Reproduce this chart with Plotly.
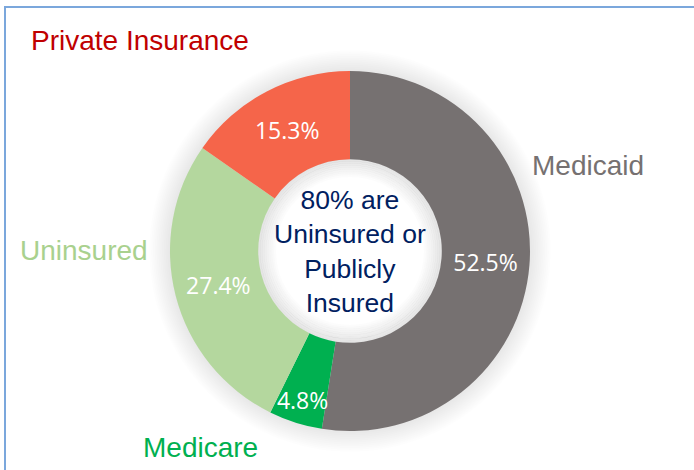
import plotly.graph_objects as go

W, H = 694, 470

labels = ["Medicaid", "Medicare", "Uninsured", "Private Insurance"]
values = [52.5, 4.8, 27.4, 15.3]
colors = ["#767171", "#00B050", "#B4D79E", "#F5654A"]
label_colors = ["#767171", "#00B050", "#A9D18E", "#C00000"]
center_lines = ["80% are", "Uninsured or", "Publicly", "Insured"]

# donut placement in pixels
cx, cy, r = 350, 251, 180
hole = 0.51

# outside label anchor points (pixels from top-left)
label_pos = {
    "Medicaid": (588, 165),
    "Medicare": (200, 447),
    "Uninsured": (84, 250),
    "Private Insurance": (140, 40),
}


def px(x, y):
    return x / W, 1 - y / H


def circle(rr, **kw):
    return dict(
        type="circle", xref="paper", yref="paper",
        x0=(cx - rr) / W, x1=(cx + rr) / W,
        y0=1 - (cy + rr) / H, y1=1 - (cy - rr) / H,
        **kw,
    )


fig = go.Figure()

fig.add_trace(
    go.Pie(
        labels=labels,
        values=values,
        hole=hole,
        sort=False,
        direction="clockwise",
        rotation=0,
        marker=dict(colors=colors, line=dict(width=0)),
        texttemplate="%{value:.1f}%",
        textposition="inside",
        insidetextorientation="horizontal",
        textfont=dict(family="Open Sans", size=23, color="white"),
        showlegend=False,
        hoverinfo="label+value",
        domain=dict(
            x=[(cx - r) / W, (cx + r) / W],
            y=[1 - (cy + r) / H, 1 - (cy - r) / H],
        ),
    )
)

shapes = []
# soft outer shadow
for i in range(12):
    shapes.append(circle(r + 1 + i * 1.8, layer="below",
                         fillcolor="rgba(0,0,0,0.009)", line=dict(width=0)))
# white hole with inner shadow
ri = r * hole
shapes.append(circle(ri, layer="below", fillcolor="white", line=dict(width=0)))
for i in range(9):
    shapes.append(circle(ri - 1 - i * 2, layer="below",
                         line=dict(color="rgba(0,0,0,%.3f)" % (0.1 - i * 0.011), width=2.2)))
# frame (top and left edge visible)
x0, y1 = px(5, 7)
shapes.append(
    dict(
        type="rect", xref="paper", yref="paper", layer="below",
        x0=x0, x1=1.05, y0=-0.05, y1=y1,
        line=dict(color="#7BA7DC", width=2), fillcolor="rgba(0,0,0,0)",
    )
)

annotations = []
for name, col in zip(labels, label_colors):
    x, y = px(*label_pos[name])
    annotations.append(
        dict(
            text=name, x=x, y=y, xref="paper", yref="paper",
            showarrow=False, xanchor="center", yanchor="middle",
            font=dict(family="Liberation Sans", size=28, color=col),
        )
    )

cxp, cyp = px(cx, cy)
annotations.append(
    dict(
        text="<br>".join(center_lines), x=cxp, y=cyp,
        xref="paper", yref="paper", showarrow=False,
        xanchor="center", yanchor="middle",
        font=dict(family="Liberation Sans", size=26.5, color="#002060"),
    )
)

fig.update_layout(
    width=W,
    height=H,
    margin=dict(l=0, r=0, t=0, b=0),
    paper_bgcolor="white",
    plot_bgcolor="white",
    shapes=shapes,
    annotations=annotations,
    uniformtext=dict(minsize=23, mode="show"),
)

fig.write_html(
    "out.html",
    config={"displayModeBar": False},
    post_script="document.body.style.margin='0';",
)
